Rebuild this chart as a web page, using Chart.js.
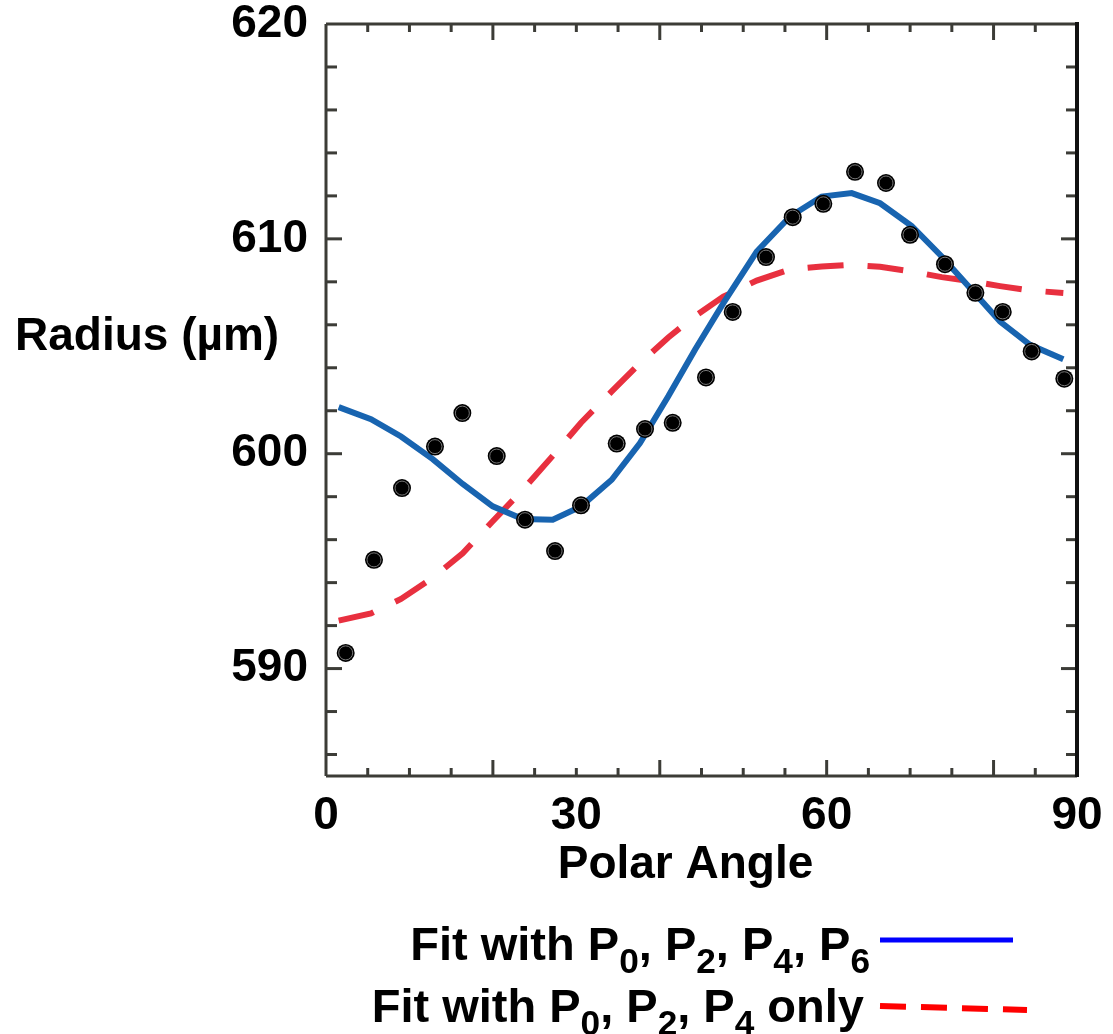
<!DOCTYPE html>
<html>
<head>
<meta charset="utf-8">
<title>Radius vs Polar Angle</title>
<script src="https://cdn.jsdelivr.net/npm/chart.js@4.4.1/dist/chart.umd.min.js"></script>
<style>
  body { margin: 0; background: #fff; }
  #wrap { position: relative; width: 1113px; height: 1034px; }
  #chart { position: absolute; left: 0; top: 0; }
  .key {
    position: absolute;
    right: 243px;
    font: bold 47px "Liberation Sans", Arial, Helvetica, sans-serif;
    line-height: 47px;
    white-space: nowrap;
    color: #000;
  }
  .key sub { font-size: 0.75em; vertical-align: baseline; position: relative; top: 13px; }
  #key1 { top: 920px; }
  #key2 { top: 982px; right: 249px; }
  #swatches { position: absolute; left: 0; top: 900px; }
</style>
</head>
<body>
<div id="wrap">
  <canvas id="chart" width="1113" height="1034"></canvas>
  <div class="key" id="key1">Fit with P<sub>0</sub>, P<sub>2</sub>, P<sub>4</sub>, P<sub>6</sub></div>
  <div class="key" id="key2">Fit with P<sub>0</sub>, P<sub>2</sub>, P<sub>4</sub> only</div>
  <svg id="swatches" width="1113" height="134">
    <line x1="880" y1="40" x2="1013" y2="40" stroke="#0000ff" stroke-width="5"/>
    <line x1="880" y1="106" x2="1027" y2="110" stroke="#ff0000" stroke-width="6" stroke-dasharray="26 15"/>
  </svg>
</div>
<script>
// measured radius at each polar angle (degrees, micrometres)
const angle = [2.36, 5.75, 9.11, 13.06, 16.34, 20.46, 23.85, 27.45, 30.56, 34.84, 38.23, 41.55, 45.54,
               48.74, 52.73, 55.93, 59.60, 63.40, 67.11, 69.99, 74.18, 77.82, 81.10, 84.57, 88.48];
const radius = [590.73, 595.06, 598.40, 600.33, 601.89, 599.89, 596.93, 595.47, 597.60, 600.47, 601.15, 601.44, 603.55,
                606.60, 609.15, 611.01, 611.63, 613.12, 612.60, 610.19, 608.82, 607.49, 606.60, 604.76, 603.49];

// Legendre fits evaluated on their own angle grid
const fitAngle = [1.52, 5.39, 8.99, 12.79, 16.38, 19.98, 23.57, 27.17, 30.56, 34.24, 37.63, 41.02, 44.22,
                  47.62, 51.62, 55.61, 59.41, 63.00, 66.40, 70.19, 73.79, 77.18, 80.78, 84.37, 88.36];
const fitP6 = [602.17, 601.61, 600.80, 599.75, 598.59, 597.55, 596.96, 596.93, 597.55, 598.79, 600.50, 602.67, 604.84,
               607.01, 609.41, 611.04, 611.97, 612.13, 611.66, 610.60, 609.18, 607.71, 606.15, 605.07, 604.40];
const fitP4 = [592.23, 592.57, 593.24, 594.22, 595.37, 596.86, 598.31, 599.90, 601.44, 602.90, 604.22, 605.41, 606.40,
               607.31, 608.06, 608.58, 608.71, 608.79, 608.70, 608.48, 608.22, 608.03, 607.80, 607.60, 607.48];

// tick values
const xLabels = [0, 30, 60, 90];
const yLabels = [590, 600, 610, 620];
const xMajor = [20, 40, 60, 80];
const xMinor = [5, 10, 15, 25, 30, 35, 45, 50, 55, 65, 70, 75, 85];
const yMajor = [590, 600, 610];
const yMinor = [586, 588, 592, 594, 596, 598, 602, 604, 606, 608, 612, 614, 616, 618];

const FONT = '"Liberation Sans", Arial, Helvetica, sans-serif';
const AXIS = '#3c3c37';

const toXY = (xs, ys) => xs.map((v, i) => ({x: v, y: ys[i]}));

// box with inward ticks + the two axis titles
const framePlugin = {
  id: 'frame',
  beforeDatasetsDraw(chart) {
    const {ctx, chartArea: a, scales: {x, y}} = chart;
    ctx.save();
    ctx.strokeStyle = AXIS;
    ctx.lineWidth = 3;
    const seg = (x0, y0, x1, y1) => { ctx.beginPath(); ctx.moveTo(x0, y0); ctx.lineTo(x1, y1); ctx.stroke(); };
    const xTicks = (vals, len) => vals.forEach(v => {
      const px = x.getPixelForValue(v);
      seg(px, a.bottom, px, a.bottom - len);
      seg(px, a.top, px, a.top + len);
    });
    const yTicks = (vals, len) => vals.forEach(v => {
      const py = y.getPixelForValue(v);
      seg(a.left, py, a.left + len, py);
      seg(a.right, py, a.right - len, py);
    });
    xTicks(xMajor, 16);
    xTicks(xMinor, 8);
    yTicks(yMajor, 16);
    yTicks(yMinor, 11);
    seg(a.left, a.top, a.right, a.top);
    seg(a.left, a.top, a.left, a.bottom);
    seg(a.left, a.bottom, a.right, a.bottom);
    ctx.strokeStyle = '#111';
    ctx.lineWidth = 4;
    seg(a.right, a.top - 2, a.right, a.bottom + 1);
    ctx.restore();
  },
  afterDraw(chart) {
    const {ctx, chartArea: a} = chart;
    ctx.save();
    ctx.fillStyle = '#000';
    ctx.font = 'bold 46px ' + FONT;
    ctx.textBaseline = 'alphabetic';
    ctx.textAlign = 'left';
    ctx.fillText('Radius (\u00b5m)', 15, 350);
    ctx.textAlign = 'center';
    ctx.fillText('Polar Angle', (a.left + a.right) / 2 - 16, a.bottom + 102);
    ctx.restore();
  }
};

const drawChart = function () {
  const ctx = document.getElementById('chart').getContext('2d');
  const config = {
    type: 'scatter',
    data: {
      datasets: [
        {
          // thin grey ring inside each marker
          data: toXY(angle, radius),
          pointRadius: 7,
          pointBorderWidth: 1,
          pointBorderColor: '#777',
          pointBackgroundColor: 'rgba(0,0,0,0)',
          order: 0
        },
        {
          data: toXY(angle, radius),
          pointRadius: 9,
          pointBorderWidth: 0,
          pointBackgroundColor: '#000',
          order: 1
        },
        {
          data: toXY(fitAngle, fitP6),
          showLine: true,
          borderColor: '#1864b0',
          borderWidth: 6,
          pointRadius: 0,
          tension: 0,
          order: 2
        },
        {
          data: toXY(fitAngle, fitP4),
          showLine: true,
          borderColor: '#e8303f',
          borderWidth: 6,
          borderDash: [36, 24],
          pointRadius: 0,
          tension: 0,
          order: 3
        }
      ]
    },
    options: {
      responsive: false,
      animation: false,
      devicePixelRatio: 1,
      layout: { padding: { top: 24, right: 36, left: 0, bottom: 0 } },
      scales: {
        x: {
          type: 'linear',
          min: 0,
          max: 90,
          afterBuildTicks: s => { s.ticks = xLabels.map(v => ({value: v})); },
          afterFit: s => { s.height = 258; s.paddingLeft = 0; s.paddingRight = 0; },
          grid: { display: false, drawTicks: false },
          border: { display: false },
          ticks: {
            padding: 17,
            color: '#000',
            maxRotation: 0,
            font: { family: FONT, size: 46, weight: 'bold', lineHeight: 1 }
          }
        },
        y: {
          type: 'linear',
          min: 585,
          max: 620,
          afterBuildTicks: s => { s.ticks = yLabels.map(v => ({value: v})); },
          afterFit: s => { s.width = 326; s.paddingTop = 0; s.paddingBottom = 0; },
          grid: { display: false, drawTicks: false },
          border: { display: false },
          ticks: {
            padding: 18,
            color: '#000',
            font: { family: FONT, size: 46, weight: 'bold', lineHeight: 1 }
          }
        }
      },
      plugins: {
        legend: { display: false },
        tooltip: { enabled: false },
        title: { display: false }
      }
    },
    plugins: [framePlugin]
  };
  new Chart(ctx, config);
};

document.addEventListener('DOMContentLoaded', function () {
  drawChart();
});
</script>
</body>
</html>
